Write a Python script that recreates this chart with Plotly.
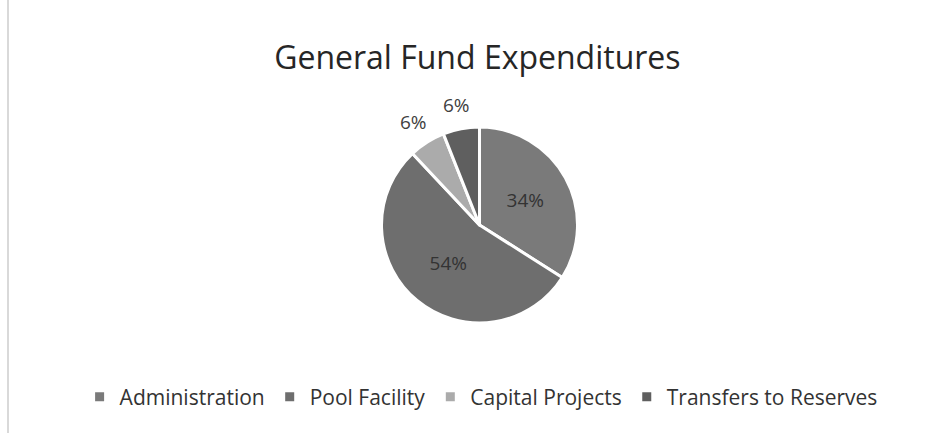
import math
import plotly.graph_objects as go

categories = ["Administration", "Pool Facility", "Capital Projects", "Transfers to Reserves"]
values = [34, 54, 6, 6]
colors = ["#7a7a7a", "#6e6e6e", "#ababab", "#5f5f5f"]
text_positions = ["inside", "inside", "none", "none"]

W, H = 936, 433
cx, cy, r = 479.5, 225, 98

total = sum(values)
# outside labels for small slices, placed along each slice's mid-angle
annotations = []
cum = 0
for v, pos in zip(values, text_positions):
    mid = (cum + v / 2) / total * 2 * math.pi
    cum += v
    if pos == "none":
        rr = r * 1.25
        px = cx + rr * math.sin(mid)
        py = cy - rr * math.cos(mid)
        annotations.append(dict(
            x=px / W, y=1 - py / H, xref="paper", yref="paper",
            text=f"{round(v / total * 100)}%", showarrow=False,
            font=dict(size=19, color="#404040"), xanchor="center", yanchor="middle"))

fig = go.Figure(go.Pie(
    labels=categories,
    values=values,
    sort=False,
    direction="clockwise",
    rotation=0,
    marker=dict(colors=colors, line=dict(color="white", width=3)),
    textinfo="percent",
    texttemplate="%{percent:.0%}",
    textposition=text_positions,
    insidetextfont=dict(color="#333333", size=19),
    insidetextorientation="horizontal",
    domain=dict(x=[2 * cx / W - 1, 1], y=[(H - cy - r) / H, (H - cy + r) / H]),
    hoverinfo="label+percent",
))

fig.update_layout(
    width=W, height=H,
    margin=dict(l=0, r=0, t=0, b=0),
    paper_bgcolor="white",
    plot_bgcolor="white",
    font=dict(family="Open Sans, Liberation Sans, sans-serif", color="#404040"),
    title=dict(text="General Fund Expenditures", x=0.510, xanchor="center",
               y=1 - 58 / H, yanchor="middle",
               font=dict(size=32, color="#262626")),
    showlegend=True,
    legend=dict(orientation="h", x=0.514, xanchor="center", y=1 - 397 / H, yanchor="middle",
                font=dict(size=21, color="#333333"), traceorder="normal"),
    annotations=annotations,
    shapes=[dict(type="line", xref="paper", yref="paper", xsizemode="pixel", xanchor=0,
                 x0=8, x1=8, y0=0, y1=1,
                 line=dict(color="#cccccc", width=1.5))],
)

fig.write_html("out.html")
